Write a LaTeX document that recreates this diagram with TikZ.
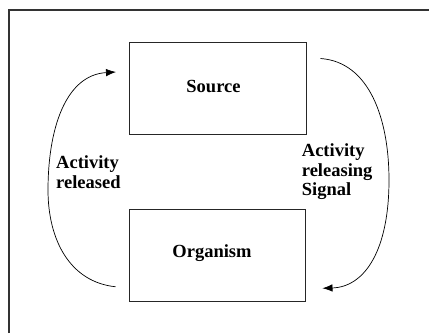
\documentclass[tikz,border=0pt]{standalone}
\usepackage{fontspec}
\setmainfont{Liberation Serif}
\usetikzlibrary{arrows.meta,calc}
\begin{document}
\begin{tikzpicture}[x=1pt,y=-1pt,
  box/.style={draw=black!85, line width=1pt, minimum width=176.5pt, minimum height=92pt, inner sep=0pt},
  txt/.style={inner sep=0pt, anchor=base, font=\bfseries\fontsize{18.5}{20}\selectfont},
  lbl/.style={align=left, inner sep=0pt, anchor=north west, font=\bfseries\fontsize{18.5}{19.5}\selectfont},
  flow/.style={line width=0.7pt, -{Latex[length=10pt,width=7.5pt]}},
  frame/.style={line width=1.1pt, black!80}]
\useasboundingbox (0,0) rectangle (429,333);
\coordinate (fb) at (9,333);
\coordinate (fc) at (9,10);
\coordinate (fr) at (429,10);
\draw[frame] (fb) -- (fc) -- (fr);
\node[box] (src) at (217.75,88) {};
\node[box] (org) at (217.25,255.25) {};
\node[txt] (srct) at ($(src.center)+(-4.25,4)$) {Source};
\node[txt] (orgt) at ($(org.center)+(-5.25,2)$) {Organism};
\node[lbl] (lleft) at (56,155.5) {Activity\\released};
\node[lbl] (lright) at (301.7,143.5) {Activity\\releasing\\Signal};
\draw[flow] ($(org.south west)+(-13,-15)$) .. controls (70,282) and (48,240) .. (48,190)
  .. controls (48,130) and (65,75) .. ($(src.north west)+(-13,30.5)$);
\draw[flow] ($(src.north east)+(14,17)$) .. controls (370,62) and (389,120) .. (389,180)
  .. controls (389,250) and (365,287) .. ($(org.south east)+(16.5,-13.5)$);
\end{tikzpicture}
\end{document}
